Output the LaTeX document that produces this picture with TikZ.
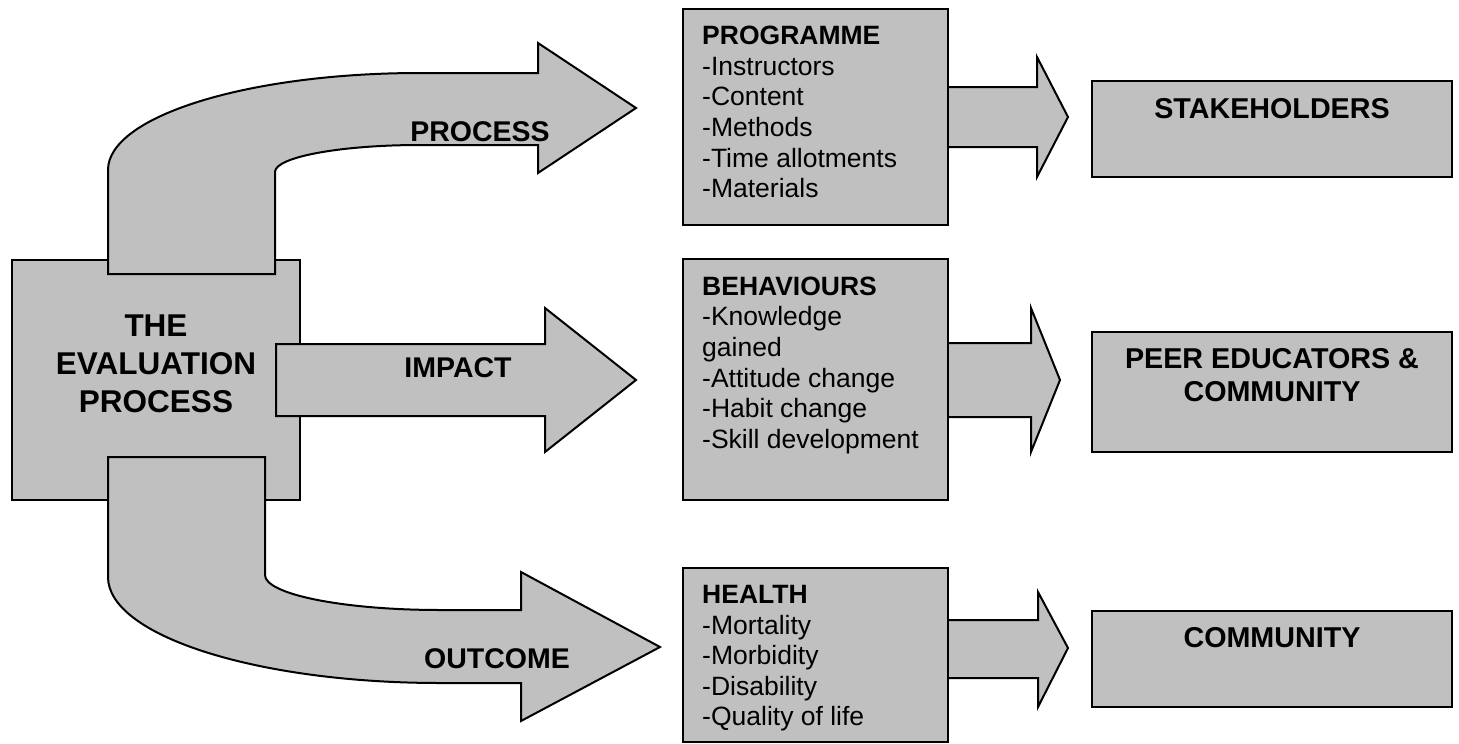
\documentclass[tikz,border=0pt]{standalone}
\usepackage{fontspec}
\setmainfont{Liberation Sans}
\usetikzlibrary{calc}
\definecolor{boxgray}{RGB}{192,192,192}
\begin{document}
\begin{tikzpicture}[x=1pt,y=-1pt,
  shapefill/.style={fill=boxgray,draw=black,line width=2pt,line join=miter},
  box/.style={shapefill,rectangle,inner sep=0pt},
  listtext/.style={anchor=north west,align=left,inner sep=0pt,
    font=\fontsize{26.5}{30.6}\selectfont},
  bigtext/.style={anchor=north,align=center,inner sep=0pt,
    font=\bfseries\fontsize{28.7}{33}\selectfont},
  arrowlabel/.style={anchor=center,inner sep=0pt,
    font=\bfseries\fontsize{28.5}{33}\selectfont},
  titletext/.style={anchor=north,align=center,inner sep=0pt,
    font=\bfseries\fontsize{31.5}{38}\selectfont}
]
\useasboundingbox (0,0) rectangle (1459,744);

% left box
\node[box,minimum width=288pt,minimum height=240pt] (eval) at (156,380) {};

% big arrows (drawn over the left box)
\draw[shapefill] (108,274) -- (108,170)
  .. controls (108,116.4) and (247.7,73) .. (420,73)
  -- (538,73) -- (538,43) -- (636,108) -- (538,173) -- (538,145) -- (420,145)
  .. controls (339.9,145) and (275,157.1) .. (275,172)
  -- (275,274) -- cycle;
\draw[shapefill] (276,344) -- (545,344) -- (545,308) -- (636,380)
  -- (545,452) -- (545,416) -- (276,416) -- cycle;
\draw[shapefill] (108,457) -- (108,577)
  .. controls (108,635.5) and (256.6,683) .. (440,683)
  -- (521,683) -- (521,721) -- (660,647) -- (521,572) -- (521,610) -- (440,610)
  .. controls (343.3,610) and (265,594.3) .. (265,575)
  -- (265,457) -- cycle;

\node[titletext] (evaltxt) at (156,314.7) {THE\\EVALUATION\\PROCESS};
\node[arrowlabel] (lprocess) at (480,132) {PROCESS};
\node[arrowlabel] (limpact) at (458,368) {IMPACT};
\node[arrowlabel] (loutcome) at (497,659) {OUTCOME};

% small arrows
\draw[shapefill] (940,87) -- (1037,87) -- (1037,57) -- (1068,117)
  -- (1037,177) -- (1037,147) -- (940,147) -- cycle;
\draw[shapefill] (940,343) -- (1031,343) -- (1031,308) -- (1060,380)
  -- (1031,452) -- (1031,417) -- (940,417) -- cycle;
\draw[shapefill] (940,620) -- (1038,620) -- (1038,592) -- (1068,648)
  -- (1038,707) -- (1038,678) -- (940,678) -- cycle;

% middle boxes
\node[box,minimum width=265pt,minimum height=216pt] (prog) at (815.5,117) {};
\node[box,minimum width=265pt,minimum height=241pt] (behav) at (815.5,379.5) {};
\node[box,minimum width=265pt,minimum height=174pt] (health) at (815.5,655) {};

\node[listtext] (progtxt) at ($(prog.north west)+(20,18)$)
  {\textbf{PROGRAMME}\\-Instructors\\-Content\\-Methods\\-Time allotments\\-Materials};
\node[listtext] (behavtxt) at ($(behav.north west)+(20,18.5)$)
  {\textbf{BEHAVIOURS}\\-Knowledge\\gained\\-Attitude change\\-Habit change\\-Skill development};
\node[listtext] (healthtxt) at ($(health.north west)+(20,18)$)
  {\textbf{HEALTH}\\-Mortality\\-Morbidity\\-Disability\\-Quality of life};

% right boxes
\node[box,minimum width=360pt,minimum height=96pt] (stake) at (1272,129) {};
\node[box,minimum width=360pt,minimum height=120pt] (peer) at (1272,392) {};
\node[box,minimum width=360pt,minimum height=96pt] (comm) at (1272,659) {};

\node[bigtext] (staketxt) at ($(stake.north)+(0,18.7)$) {STAKEHOLDERS};
\node[bigtext] (peertxt) at ($(peer.north)+(0,17.7)$) {PEER EDUCATORS \&\\COMMUNITY};
\node[bigtext] (commtxt) at ($(comm.north)+(0,17.7)$) {COMMUNITY};
\end{tikzpicture}
\end{document}
